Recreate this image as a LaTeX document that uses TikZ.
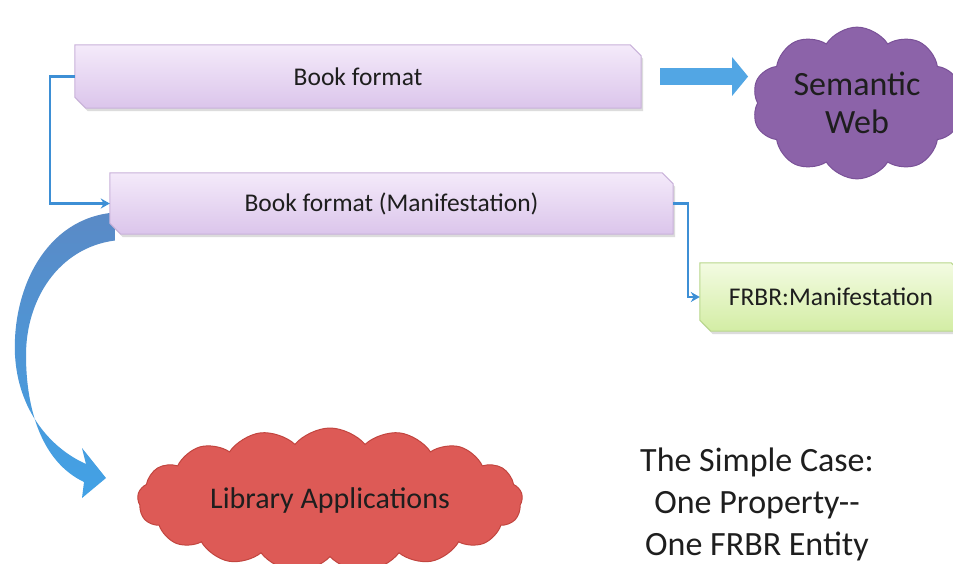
\documentclass[tikz,border=0pt]{standalone}
\usepackage{fontspec}
\setmainfont{Carlito}
\usetikzlibrary{shapes.symbols,arrows.meta,backgrounds,calc}
\definecolor{pTop}{HTML}{F4EAFA}
\definecolor{pBot}{HTML}{DBC5EB}
\definecolor{pEdge}{HTML}{C9B2DA}
\definecolor{gTop}{HTML}{F3FBE2}
\definecolor{gBot}{HTML}{D3EDA4}
\definecolor{gEdge}{HTML}{B9D78C}
\definecolor{cPurple}{HTML}{8C63A9}
\definecolor{cPurpleEdge}{HTML}{7A5298}
\definecolor{cRed}{HTML}{DD5A56}
\definecolor{cRedEdge}{HTML}{C2453F}
\definecolor{conn}{HTML}{3D8FD5}
\definecolor{fat}{HTML}{52A6E4}
\definecolor{fatTop}{HTML}{5A8AC6}
\definecolor{fatBot}{HTML}{42A2E6}
\definecolor{txt}{HTML}{1E1E1E}
\newcommand\snipbox[4]{%
  \fill[black!30,opacity=.45,transform canvas={shift={(2pt,-3pt)}}]
    (#1.north west) -- ([xshift=-11pt]#1.north east) -- ([yshift=-11pt]#1.north east)
    -- (#1.south east) -- ([xshift=11pt]#1.south west) -- ([yshift=11pt]#1.south west) -- cycle;
  \draw[top color=#2,bottom color=#3,draw=#4,line width=1pt]
    (#1.north west) -- ([xshift=-11pt]#1.north east) -- ([yshift=-11pt]#1.north east)
    -- (#1.south east) -- ([xshift=11pt]#1.south west) -- ([yshift=11pt]#1.south west) -- cycle;}
\begin{document}
\begin{tikzpicture}[x=1pt,y=-1pt,
  boxtext/.style={text=txt,font=\fontsize{25.5}{30}\selectfont,inner sep=0pt},
  elbow/.style={draw=conn,line width=2.2pt,-{Stealth[length=9pt,width=10pt]}},
  cloudnode/.style={cloud,cloud puff arc=115,text=txt,align=center,line width=1pt}]
\useasboundingbox (0,0) rectangle (953,563);

\node[boxtext,minimum width=566pt,minimum height=63pt] (b1) at (358,76.5) {Book format};
\node[boxtext,minimum width=563pt,minimum height=61pt] (b2) at (391.5,203.5) {Book format (Manifestation)};
\node[boxtext,minimum width=262pt,minimum height=68pt] (b3) at (831,297) {FRBR:Manifestation};

\node[cloudnode,cloud puffs=10,aspect=1.5,minimum width=210pt,minimum height=138pt,
      fill=cPurple,draw=cPurpleEdge,font=\fontsize{34}{40}\selectfont] (sw) at (857,103) {Semantic\\[-2pt]Web};
\node[cloudnode,cloud puffs=17,cloud puff arc=100,aspect=3,minimum width=385pt,minimum height=132pt,
      fill=cRed,draw=cRedEdge,font=\fontsize{30}{36}\selectfont] (la) at (330,500) {Library Applications};

\node[text=txt,align=center,font=\fontsize{34}{42}\selectfont] (sc) at (757,504)
  {The Simple Case:\\One Property-{}-\\One FRBR Entity};

\begin{pgfonlayer}{background}
  \fill[white] (0,0) rectangle (953,563);
  % curved fat arrow
  \path[top color=fatTop,bottom color=fatBot]
    ([shift={(5pt,-9pt)}]b2.west) .. controls (45,218) and (12,290) .. (15,355)
    .. controls (18,410) and (50,448) .. (86,464) -- (82,448) -- (106,478) -- (82,498)
    -- (84,482) .. controls (42,462) and (26,410) .. (26,355)
    .. controls (26,300) and (58,248) .. ([shift={(5pt,-37pt)}]b2.west) -- cycle;
  \snipbox{b1}{pTop}{pBot}{pEdge}
  \snipbox{b2}{pTop}{pBot}{pEdge}
  \snipbox{b3}{gTop}{gBot}{gEdge}
\end{pgfonlayer}

\draw[elbow] (b1.west) -- ++(-25,0) |- (b2.west);
\draw[elbow] (b2.east) -- ++(15,0) |- (b3.west);
\draw[draw=fat,line width=17pt,-{Triangle[length=16pt,width=38pt]}]
  ([xshift=19pt]b1.east) -- ([xshift=-9pt]sw.west |- b1.east);
\end{tikzpicture}
\end{document}
